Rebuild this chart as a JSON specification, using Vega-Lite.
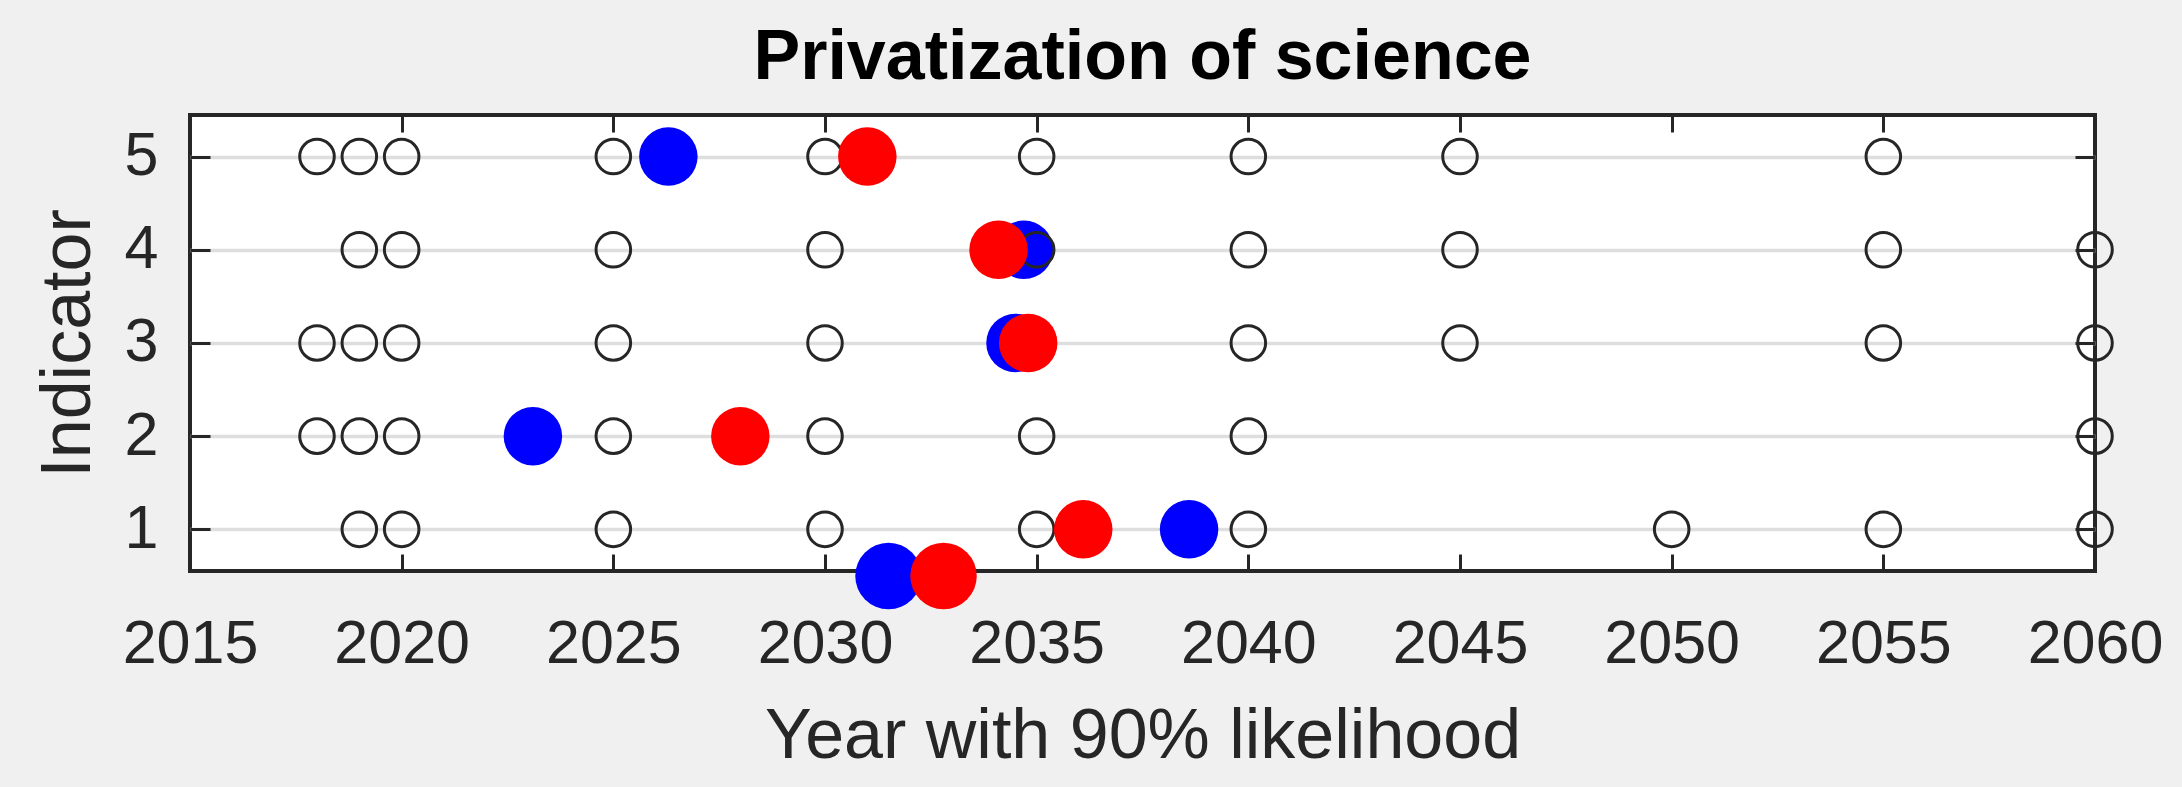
{
  "$schema": "https://vega.github.io/schema/vega-lite/v6.json",
  "width": 1905,
  "height": 456,
  "autosize": {"type": "none"},
  "padding": {"left": 190, "top": 115, "right": 87, "bottom": 216},
  "background": "#f0f0f0",
  "config": {
    "font": "Liberation Sans",
    "view": {"fill": "white", "stroke": "#262626", "strokeWidth": 4}
  },
  "title": {
    "text": "Privatization of science",
    "fontSize": 70,
    "fontWeight": "bold",
    "color": "#000000",
    "anchor": "middle",
    "frame": "group",
    "offset": 20
  },
  "data": {
    "values": [
      {"indicator": 5, "year": 2018, "series": "open", "scope": "indicator"},
      {"indicator": 5, "year": 2019, "series": "open", "scope": "indicator"},
      {"indicator": 5, "year": 2020, "series": "open", "scope": "indicator"},
      {"indicator": 5, "year": 2025, "series": "open", "scope": "indicator"},
      {"indicator": 5, "year": 2030, "series": "open", "scope": "indicator"},
      {"indicator": 5, "year": 2035, "series": "open", "scope": "indicator"},
      {"indicator": 5, "year": 2040, "series": "open", "scope": "indicator"},
      {"indicator": 5, "year": 2045, "series": "open", "scope": "indicator"},
      {"indicator": 5, "year": 2055, "series": "open", "scope": "indicator"},
      {"indicator": 4, "year": 2019, "series": "open", "scope": "indicator"},
      {"indicator": 4, "year": 2020, "series": "open", "scope": "indicator"},
      {"indicator": 4, "year": 2025, "series": "open", "scope": "indicator"},
      {"indicator": 4, "year": 2030, "series": "open", "scope": "indicator"},
      {"indicator": 4, "year": 2035, "series": "open", "scope": "indicator"},
      {"indicator": 4, "year": 2040, "series": "open", "scope": "indicator"},
      {"indicator": 4, "year": 2045, "series": "open", "scope": "indicator"},
      {"indicator": 4, "year": 2055, "series": "open", "scope": "indicator"},
      {"indicator": 4, "year": 2060, "series": "open", "scope": "indicator"},
      {"indicator": 3, "year": 2018, "series": "open", "scope": "indicator"},
      {"indicator": 3, "year": 2019, "series": "open", "scope": "indicator"},
      {"indicator": 3, "year": 2020, "series": "open", "scope": "indicator"},
      {"indicator": 3, "year": 2025, "series": "open", "scope": "indicator"},
      {"indicator": 3, "year": 2030, "series": "open", "scope": "indicator"},
      {"indicator": 3, "year": 2035, "series": "open", "scope": "indicator"},
      {"indicator": 3, "year": 2040, "series": "open", "scope": "indicator"},
      {"indicator": 3, "year": 2045, "series": "open", "scope": "indicator"},
      {"indicator": 3, "year": 2055, "series": "open", "scope": "indicator"},
      {"indicator": 3, "year": 2060, "series": "open", "scope": "indicator"},
      {"indicator": 2, "year": 2018, "series": "open", "scope": "indicator"},
      {"indicator": 2, "year": 2019, "series": "open", "scope": "indicator"},
      {"indicator": 2, "year": 2020, "series": "open", "scope": "indicator"},
      {"indicator": 2, "year": 2025, "series": "open", "scope": "indicator"},
      {"indicator": 2, "year": 2030, "series": "open", "scope": "indicator"},
      {"indicator": 2, "year": 2035, "series": "open", "scope": "indicator"},
      {"indicator": 2, "year": 2040, "series": "open", "scope": "indicator"},
      {"indicator": 2, "year": 2060, "series": "open", "scope": "indicator"},
      {"indicator": 1, "year": 2019, "series": "open", "scope": "indicator"},
      {"indicator": 1, "year": 2020, "series": "open", "scope": "indicator"},
      {"indicator": 1, "year": 2025, "series": "open", "scope": "indicator"},
      {"indicator": 1, "year": 2030, "series": "open", "scope": "indicator"},
      {"indicator": 1, "year": 2035, "series": "open", "scope": "indicator"},
      {"indicator": 1, "year": 2040, "series": "open", "scope": "indicator"},
      {"indicator": 1, "year": 2050, "series": "open", "scope": "indicator"},
      {"indicator": 1, "year": 2055, "series": "open", "scope": "indicator"},
      {"indicator": 1, "year": 2060, "series": "open", "scope": "indicator"},
      {"indicator": 5, "year": 2026.3, "series": "blue", "scope": "indicator"},
      {"indicator": 4, "year": 2034.7, "series": "blue", "scope": "indicator"},
      {"indicator": 3, "year": 2034.5, "series": "blue", "scope": "indicator"},
      {"indicator": 2, "year": 2023.1, "series": "blue", "scope": "indicator"},
      {"indicator": 1, "year": 2038.6, "series": "blue", "scope": "indicator"},
      {"indicator": 0.5, "year": 2031.5, "series": "blue", "scope": "overall"},
      {"indicator": 5, "year": 2031.0, "series": "red", "scope": "indicator"},
      {"indicator": 4, "year": 2034.1, "series": "red", "scope": "indicator"},
      {"indicator": 3, "year": 2034.8, "series": "red", "scope": "indicator"},
      {"indicator": 2, "year": 2028.0, "series": "red", "scope": "indicator"},
      {"indicator": 1, "year": 2036.1, "series": "red", "scope": "indicator"},
      {"indicator": 0.5, "year": 2032.8, "series": "red", "scope": "overall"}
    ]
  },
  "layer": [
    {
      "transform": [{"filter": "datum.series === 'blue'"}],
      "mark": {"type": "point", "shape": "circle", "filled": true, "color": "#0000ff", "opacity": 1, "clip": false},
      "encoding": {
        "x": {
          "field": "year", "type": "quantitative",
          "scale": {"domain": [2015, 2060], "nice": false, "zero": false},
          "axis": {
            "orient": "bottom",
            "title": "Year with 90% likelihood",
            "values": [2015, 2020, 2025, 2030, 2035, 2040, 2045, 2050, 2055, 2060],
            "format": "d",
            "labelFontSize": 61,
            "labelColor": "#262626",
            "labelPadding": 60,
            "labelFlush": false,
            "labelOverlap": false,
            "tickSize": -17,
            "tickWidth": 3,
            "tickColor": "#262626",
            "domain": false,
            "grid": false,
            "titleFontSize": 70,
            "titleFontWeight": "normal",
            "titleColor": "#262626",
            "titlePadding": 28
          }
        },
        "y": {
          "field": "indicator", "type": "quantitative",
          "scale": {"domain": [0.553, 5.446], "nice": false, "zero": false},
          "axis": {
            "orient": "left",
            "title": "Indicator",
            "values": [1, 2, 3, 4, 5],
            "labelFontSize": 61,
            "labelColor": "#262626",
            "labelPadding": 52,
            "labelOverlap": false,
            "labelFlush": false,
            "tickSize": -20,
            "tickWidth": 3,
            "tickColor": "#262626",
            "domain": false,
            "grid": true,
            "gridColor": "#dedede",
            "gridWidth": 3.5,
            "titleFontSize": 70,
            "titleFontWeight": "normal",
            "titleColor": "#262626",
            "titlePadding": 20
          }
        },
        "size": {
          "field": "scope", "type": "nominal",
          "scale": {"domain": ["indicator", "overall"], "range": [3420, 4420]},
          "legend": null
        }
      }
    },
    {
      "transform": [{"filter": "datum.series === 'open'"}],
      "mark": {"type": "point", "shape": "circle", "filled": false, "stroke": "#262626", "strokeWidth": 3, "size": 1195, "opacity": 1, "clip": false},
      "encoding": {
        "x": {
          "field": "year", "type": "quantitative",
          "axis": {
            "orient": "top",
            "title": null,
            "labels": false,
            "values": [2015, 2020, 2025, 2030, 2035, 2040, 2045, 2050, 2055, 2060],
            "tickSize": -17,
            "tickWidth": 3,
            "tickColor": "#262626",
            "domain": false,
            "grid": false
          }
        },
        "y": {
          "field": "indicator", "type": "quantitative",
          "axis": {
            "orient": "right",
            "title": null,
            "labels": false,
            "values": [1, 2, 3, 4, 5],
            "tickSize": -20,
            "tickWidth": 3,
            "tickColor": "#262626",
            "domain": false,
            "grid": false
          }
        }
      }
    },
    {
      "transform": [{"filter": "datum.series === 'red'"}],
      "mark": {"type": "point", "shape": "circle", "filled": true, "color": "#ff0000", "opacity": 1, "clip": false},
      "encoding": {
        "x": {"field": "year", "type": "quantitative", "axis": null},
        "y": {"field": "indicator", "type": "quantitative", "axis": null},
        "size": {
          "field": "scope", "type": "nominal",
          "scale": {"domain": ["indicator", "overall"], "range": [3420, 4420]},
          "legend": null
        }
      }
    }
  ],
  "resolve": {"axis": {"x": "independent", "y": "independent"}}
}
